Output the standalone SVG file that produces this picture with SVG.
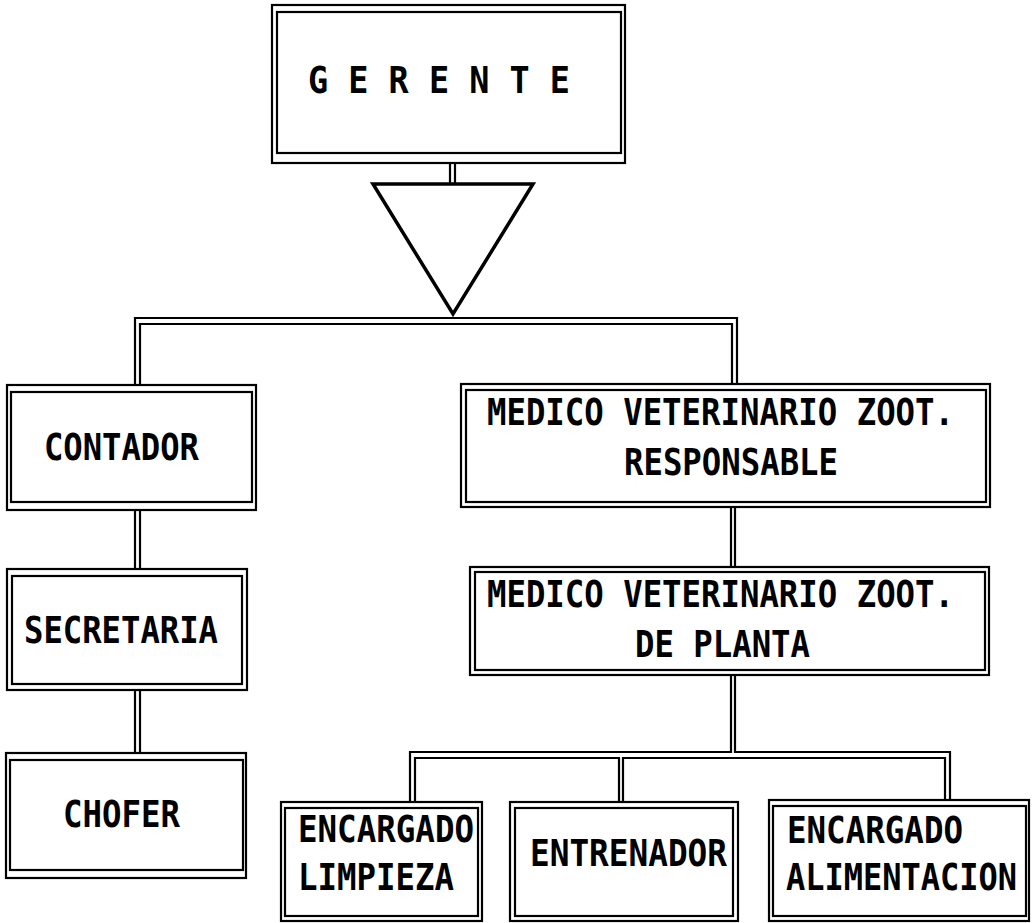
<svg xmlns="http://www.w3.org/2000/svg" width="1035" height="923" viewBox="0 0 1035 923">
<style>
.b{fill:none;stroke:#000;stroke-width:2.2}
.c{fill:none;stroke:#000;stroke-width:2.2}
.tri{fill:none;stroke:#000;stroke-width:3.5;stroke-linejoin:miter}
.t{font-family:"DejaVu Sans Mono","Liberation Mono",monospace;font-size:37px;font-weight:bold;fill:#000}
</style>
<rect width="1035" height="923" fill="#fff"/>
<g id="connectors">
<path class="c" d="M450,163 V183 M455,163 V183"/>
<path class="tri" d="M373,184 H533 L453,314 Z"/>
<path class="c" d="M135,385 V318 H737 V384"/>
<path class="c" d="M140,385 V324 H732 V384"/>
<path class="c" d="M135,510 V569 M140,510 V569"/>
<path class="c" d="M135,690 V753 M140,690 V753"/>
<path class="c" d="M731,507 V567 M735,507 V567"/>
<path class="c" d="M410,802 V752 H731 V675 M735,675 V752 H950 V800"/>
<path class="c" d="M415,802 V758 H619 V802 M623,802 V758 H945 V800"/>
</g>
<g id="gerente">
<rect class="b" x="272" y="5" width="353" height="158"/>
<rect class="b" x="277" y="12" width="344" height="141"/>
<text class="t" x="308" y="93" textLength="262" lengthAdjust="spacingAndGlyphs">G E R E N T E</text>
</g>
<g id="contador">
<rect class="b" x="7" y="385" width="249" height="125"/>
<rect class="b" x="11" y="392" width="241" height="110"/>
<text class="t" x="44" y="460" textLength="155" lengthAdjust="spacingAndGlyphs">CONTADOR</text>
</g>
<g id="secretaria">
<rect class="b" x="7" y="569" width="240" height="121"/>
<rect class="b" x="12" y="576" width="230" height="108"/>
<text class="t" x="24" y="643" textLength="194" lengthAdjust="spacingAndGlyphs">SECRETARIA</text>
</g>
<g id="chofer">
<rect class="b" x="6" y="753" width="240" height="125"/>
<rect class="b" x="10" y="760" width="233" height="110"/>
<text class="t" x="63" y="827" textLength="117" lengthAdjust="spacingAndGlyphs">CHOFER</text>
</g>
<g id="mvz-responsable">
<rect class="b" x="461" y="384" width="529" height="123"/>
<rect class="b" x="466" y="390" width="520" height="112"/>
<text class="t" x="487" y="425" textLength="467" lengthAdjust="spacingAndGlyphs">MEDICO VETERINARIO ZOOT.</text>
<text class="t" x="624" y="475" textLength="214" lengthAdjust="spacingAndGlyphs">RESPONSABLE</text>
</g>
<g id="mvz-planta">
<rect class="b" x="470" y="567" width="519" height="108"/>
<rect class="b" x="475" y="572" width="510" height="98"/>
<text class="t" x="487" y="607" textLength="467" lengthAdjust="spacingAndGlyphs">MEDICO VETERINARIO ZOOT.</text>
<text class="t" x="635" y="657" textLength="175" lengthAdjust="spacingAndGlyphs">DE PLANTA</text>
</g>
<g id="encargado-limpieza">
<rect class="b" x="281" y="802" width="201" height="119"/>
<rect class="b" x="285" y="808" width="193" height="108"/>
<text class="t" x="298" y="842" textLength="176" lengthAdjust="spacingAndGlyphs">ENCARGADO</text>
<text class="t" x="298" y="890" textLength="156" lengthAdjust="spacingAndGlyphs">LIMPIEZA</text>
</g>
<g id="entrenador">
<rect class="b" x="510" y="802" width="228" height="119"/>
<rect class="b" x="515" y="808" width="218" height="108"/>
<text class="t" x="530" y="866" textLength="197" lengthAdjust="spacingAndGlyphs">ENTRENADOR</text>
</g>
<g id="encargado-alimentacion">
<rect class="b" x="769" y="800" width="260" height="121"/>
<rect class="b" x="773" y="806" width="253" height="110"/>
<text class="t" x="787" y="843" textLength="176" lengthAdjust="spacingAndGlyphs">ENCARGADO</text>
<text class="t" transform="translate(786,890) scale(0.865,1)">ALIMENTACION</text>
</g>
</svg>
